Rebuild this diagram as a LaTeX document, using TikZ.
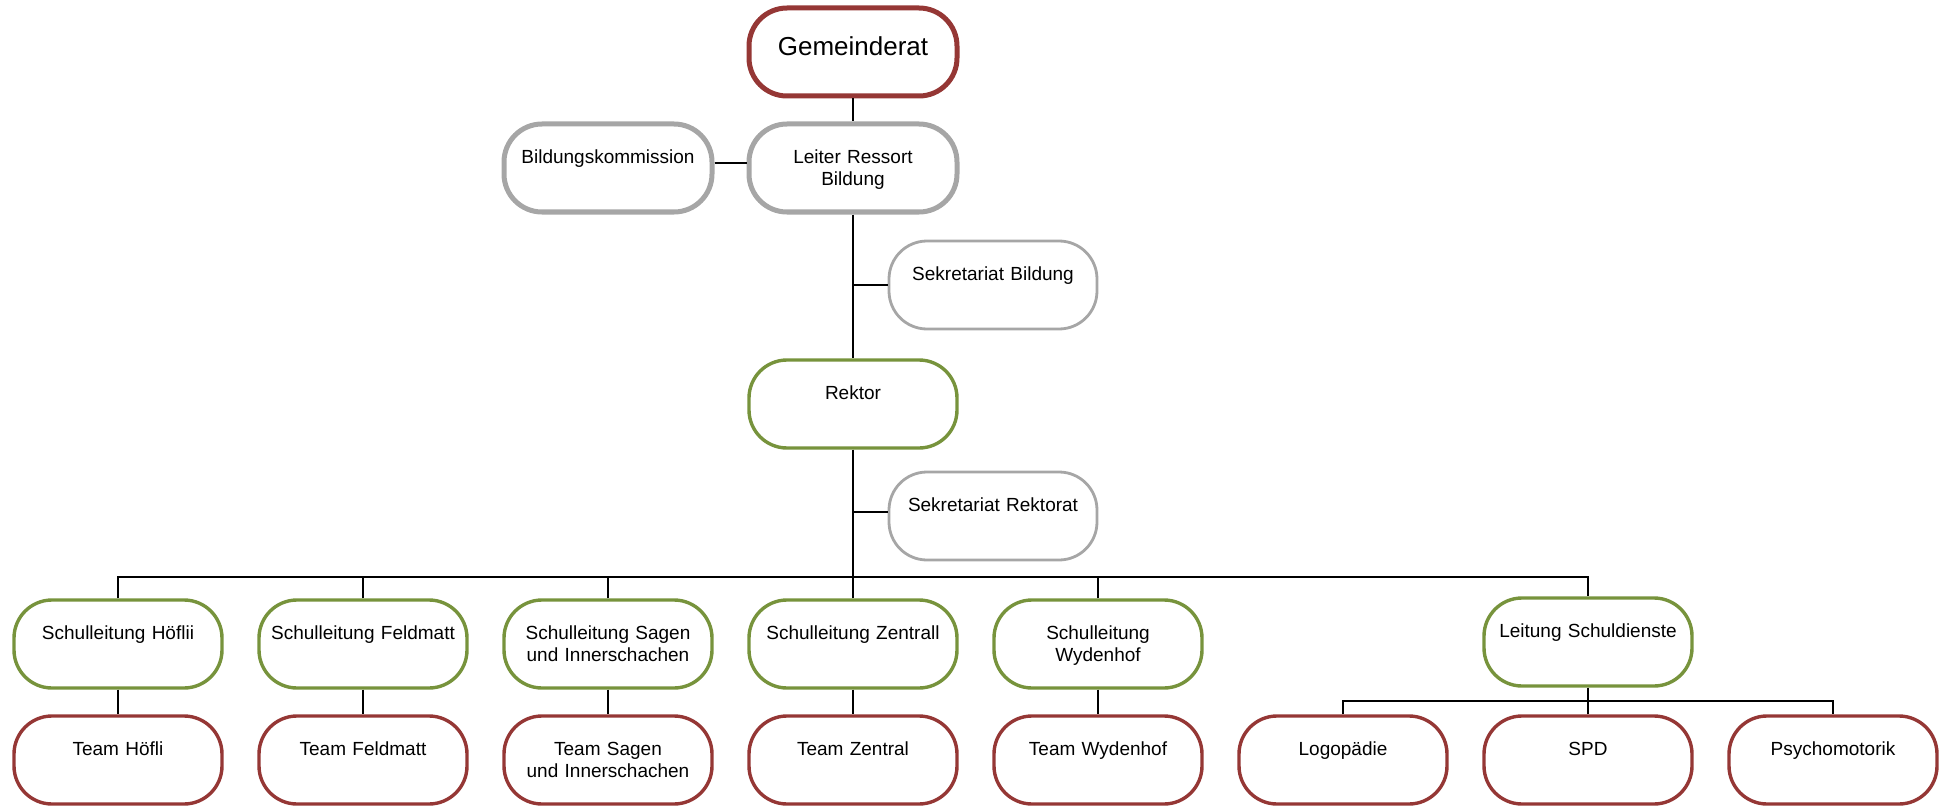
\documentclass[tikz,border=0pt]{standalone}
\usepackage{fontspec}
\setmainfont{Liberation Sans}
\definecolor{redc}{RGB}{149,55,53}
\definecolor{greenc}{RGB}{119,147,60}
\definecolor{grayc}{RGB}{166,166,166}
\tikzset{
  box/.style={rectangle, rounded corners=19pt, minimum width=104pt, minimum height=44pt,
    inner sep=0pt, text width=102pt, align=center, text height=19.75pt, text depth=24.25pt,
    font=\fontsize{9.5}{11}\selectfont, fill=white},
  topbox/.style={box, draw=redc, line width=2.5pt, font=\fontsize{13}{15}\selectfont,
    text height=24pt, text depth=20pt},
  graythick/.style={box, draw=grayc, line width=2.5pt},
  graythin/.style={box, draw=grayc, line width=1.4pt},
  greenbox/.style={box, draw=greenc, line width=1.7pt},
  redbox/.style={box, draw=redc, line width=1.7pt},
  conn/.style={draw=black, line width=0.9pt}
}
\begin{document}
\begin{tikzpicture}[x=0.5pt,y=-0.5pt]
\useasboundingbox (0,0) rectangle (1945,808);
% nodes
\node[topbox] (gr) at (853,52) {Gemeinderat};
\node[graythick] (lrb) at (853,168) {Leiter Ressort\\Bildung};
\node[graythick] (bk) at (608,168) {Bildungskommission};
\node[graythin] (sb) at (993,285) {Sekretariat Bildung};
\node[greenbox] (rk) at (853,404) {Rektor};
\node[graythin] (sr) at (993,516) {Sekretariat Rektorat};
\coordinate (bus) at (853,577);
\coordinate (subbus) at (1588,701);
\node[greenbox] (s1) at (118,644) {Schulleitung H\"oflii};
\node[greenbox] (s2) at (363,644) {Schulleitung Feldmatt};
\node[greenbox] (s3) at (608,644) {Schulleitung Sagen\\und Innerschachen};
\node[greenbox] (s4) at (853,644) {Schulleitung Zentrall};
\node[greenbox] (s5) at (1098,644) {Schulleitung\\Wydenhof};
\node[greenbox] (ls) at (1588,642) {Leitung Schuldienste};
\node[redbox] (t1) at (118,760) {Team H\"ofli};
\node[redbox] (t2) at (363,760) {Team Feldmatt};
\node[redbox] (t3) at (608,760) {Team Sagen\\und Innerschachen};
\node[redbox] (t4) at (853,760) {Team Zentral};
\node[redbox] (t5) at (1098,760) {Team Wydenhof};
\node[redbox] (lo) at (1343,760) {Logop\"adie};
\node[redbox] (spd) at (1588,760) {SPD};
\node[redbox] (ps) at (1833,760) {Psychomotorik};
% connectors
\path[conn] (gr.south) -- (lrb.north);
\path[conn] ([yshift=2.5pt]bk.east) -- ([yshift=2.5pt]lrb.west);
\path[conn] (lrb.south) -- (rk.north);
\path[conn] (lrb.south |- sb.west) -- (sb.west);
\path[conn] (rk.south) -- (rk.south |- bus);
\path[conn] ([yshift=2pt]rk.south |- sr.west) -- ([yshift=2pt]sr.west);
\path[conn] (s1.north) -- (s1.north |- bus) -- (ls.north |- bus) -- (ls.north);
\foreach \n in {s2,s3,s4,s5}{\path[conn] (\n.north) -- (\n.north |- bus);}
\path[conn] (s1.south) -- (t1.north);
\path[conn] (s2.south) -- (t2.north);
\path[conn] (s3.south) -- (t3.north);
\path[conn] (s4.south) -- (t4.north);
\path[conn] (s5.south) -- (t5.north);
\path[conn] (ls.south) -- (subbus);
\path[conn] (lo.north) -- (lo.north |- subbus) -- (ps.north |- subbus) -- (ps.north);
\path[conn] (spd.north) -- (subbus);
\end{tikzpicture}
\end{document}
